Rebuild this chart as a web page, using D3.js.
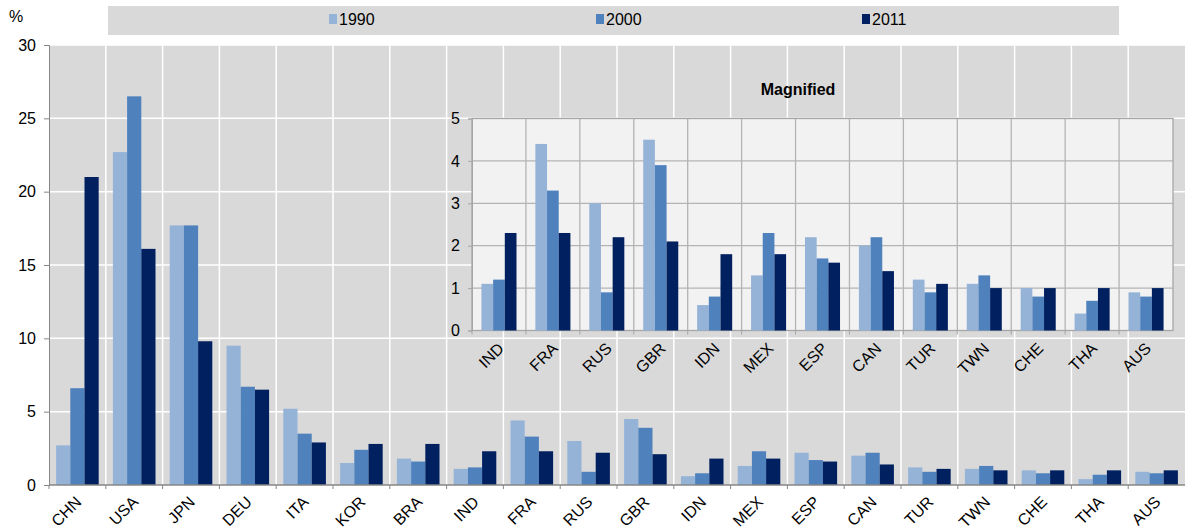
<!DOCTYPE html>
<html>
<head>
<meta charset="utf-8">
<script src="https://cdn.jsdelivr.net/npm/d3@7"></script>
<style>
  body { margin: 0; background: #fff; }
  text { font-family: 'Liberation Sans', Arial, sans-serif; fill: #000; }
</style>
</head>
<body>
<div id="chart"></div>
<script>
const countries = ['CHN', 'USA', 'JPN', 'DEU', 'ITA', 'KOR', 'BRA', 'IND', 'FRA', 'RUS',
  'GBR', 'IDN', 'MEX', 'ESP', 'CAN', 'TUR', 'TWN', 'CHE', 'THA', 'AUS']
const v1990 = [2.7, 22.7, 17.7, 9.5, 5.2, 1.5, 1.8, 1.1, 4.4, 3.0, 4.5, 0.6, 1.3, 2.2, 2.0, 1.2, 1.1, 1.0, 0.4, 0.9]
const v2000 = [6.6, 26.5, 17.7, 6.7, 3.5, 2.4, 1.6, 1.2, 3.3, 0.9, 3.9, 0.8, 2.3, 1.7, 2.2, 0.9, 1.3, 0.8, 0.7, 0.8]
const v2011 = [21.0, 16.1, 9.8, 6.5, 2.9, 2.8, 2.8, 2.3, 2.3, 2.2, 2.1, 1.8, 1.8, 1.6, 1.4, 1.1, 1.0, 1.0, 1.0, 1.0]
const years = ['1990', '2000', '2011']
const colors = ['#95b3d7', '#4f81bd', '#002060']
const mainTicks = [0, 5, 10, 15, 20, 25, 30]
const insetTicks = [0, 1, 2, 3, 4, 5]
const insetCountries = countries.slice(7)

const rows = countries.map((c, i) => ({ country: c, values: [v1990[i], v2000[i], v2011[i]] }))
const insetRows = rows.filter(d => insetCountries.includes(d.country))

const W = 1185
const H = 532

const svg = d3.select('#chart').append('svg').attr('width', W).attr('height', H)

// ---- main chart ----
const m = { left: 49, right: 1185, top: 45, bottom: 485 }

const x = d3.scaleBand().domain(countries).range([m.left, m.right]).paddingInner(0.25).paddingOuter(0.125)
const x1 = d3.scaleBand().domain(years).range([0, x.bandwidth()])
const y = d3.scaleLinear().domain([0, 30]).range([m.bottom, m.top])
const step = x.step()

svg.append('rect')
  .attr('x', m.left).attr('y', m.top)
  .attr('width', m.right - m.left).attr('height', m.bottom - m.top)
  .attr('fill', '#d9d9d9')

// white gridlines
svg.append('g').selectAll('line').data(mainTicks.slice(1)).enter().append('line')
  .attr('x1', m.left).attr('x2', m.right)
  .attr('y1', d => y(d)).attr('y2', d => y(d))
  .attr('stroke', '#fff').attr('stroke-width', 1.5)

svg.append('g').selectAll('line').data(countries.slice(1)).enter().append('line')
  .attr('x1', d => x(d) - step * 0.125).attr('x2', d => x(d) - step * 0.125)
  .attr('y1', m.top).attr('y2', m.bottom)
  .attr('stroke', '#fff').attr('stroke-width', 1.5)

// bars
const groups = svg.append('g').selectAll('g').data(rows).enter().append('g')
  .attr('transform', d => 'translate(' + x(d.country) + ',0)')

groups.selectAll('rect').data(d => d.values.map((v, i) => ({ year: years[i], v: v, i: i }))).enter()
  .append('rect')
  .attr('x', d => x1(d.year))
  .attr('width', x1.bandwidth())
  .attr('y', d => y(d.v))
  .attr('height', d => y(0) - y(d.v))
  .attr('fill', d => colors[d.i])

// y axis
const yAxis = d3.axisLeft(y).tickValues(mainTicks).tickSize(5).tickPadding(8).tickFormat(d3.format('d'))
const gy = svg.append('g').attr('transform', 'translate(' + m.left + ',0)').call(yAxis)
gy.select('.domain').attr('stroke', '#868686')
gy.selectAll('.tick line').attr('stroke', '#868686')
gy.selectAll('text').attr('font-size', '16px').attr('font-family', 'Liberation Sans, Arial, sans-serif')

// x axis
svg.append('line')
  .attr('x1', m.left).attr('x2', m.right).attr('y1', m.bottom).attr('y2', m.bottom)
  .attr('stroke', '#868686').attr('stroke-width', 1.5)
svg.append('g').selectAll('line').data(countries).enter().append('line')
  .attr('x1', d => x(d) - step * 0.125).attr('x2', d => x(d) - step * 0.125)
  .attr('y1', m.bottom).attr('y2', m.bottom + 4)
  .attr('stroke', '#868686')

svg.append('g').selectAll('text').data(countries).enter().append('text')
  .text(d => d)
  .attr('text-anchor', 'end')
  .attr('font-size', '16px')
  .attr('transform', d => 'translate(' + (x(d) + x.bandwidth() / 2 + 5) + ',' + (m.bottom + 18) + ') rotate(-45)')

svg.append('text').text('%').attr('x', 9).attr('y', 22).attr('font-size', '16px')

// legend
svg.append('rect').attr('x', 108).attr('y', 6).attr('width', 1011).attr('height', 29).attr('fill', '#d9d9d9')
const legendX = [329, 596, 862]
const lg = svg.append('g').selectAll('g').data(years).enter().append('g')
  .attr('transform', (d, i) => 'translate(' + legendX[i] + ',14)')
lg.append('rect').attr('width', 8).attr('height', 10).attr('fill', (d, i) => colors[i])
lg.append('text').text(d => d).attr('x', 10).attr('y', 11).attr('font-size', '16px')

// ---- inset ----
const im = { left: 472, right: 1173, top: 118.5, bottom: 330.5 }
const xi = d3.scaleBand().domain(insetCountries).range([im.left, im.right]).paddingInner(0.35).paddingOuter(0.175)
const xi1 = d3.scaleBand().domain(years).range([0, xi.bandwidth()])
const yi = d3.scaleLinear().domain([0, 5]).range([im.bottom, im.top])
const istep = xi.step()

svg.append('rect')
  .attr('x', im.left).attr('y', im.top)
  .attr('width', im.right - im.left).attr('height', im.bottom - im.top)
  .attr('fill', '#f2f2f2')

svg.append('g').selectAll('line').data(insetTicks.slice(1, -1)).enter().append('line')
  .attr('x1', im.left).attr('x2', im.right)
  .attr('y1', d => yi(d)).attr('y2', d => yi(d))
  .attr('stroke', '#b4b4b4').attr('stroke-width', 1.3)

svg.append('g').selectAll('line').data(insetCountries.slice(1)).enter().append('line')
  .attr('x1', d => xi(d) - istep * 0.175).attr('x2', d => xi(d) - istep * 0.175)
  .attr('y1', im.top).attr('y2', im.bottom)
  .attr('stroke', '#b4b4b4').attr('stroke-width', 1.3)

svg.append('rect')
  .attr('x', im.left).attr('y', im.top)
  .attr('width', im.right - im.left).attr('height', im.bottom - im.top)
  .attr('fill', 'none').attr('stroke', '#a6a6a6').attr('stroke-width', 1.3)

const igroups = svg.append('g').selectAll('g').data(insetRows).enter().append('g')
  .attr('transform', d => 'translate(' + xi(d.country) + ',0)')

igroups.selectAll('rect').data(d => d.values.map((v, i) => ({ year: years[i], v: v, i: i }))).enter()
  .append('rect')
  .attr('x', d => xi1(d.year))
  .attr('width', xi1.bandwidth())
  .attr('y', d => yi(d.v))
  .attr('height', d => yi(0) - yi(d.v))
  .attr('fill', d => colors[d.i])

const yiAxis = d3.axisLeft(yi).tickValues(insetTicks).tickSize(4).tickPadding(8).tickFormat(d3.format('d'))
const giy = svg.append('g').attr('transform', 'translate(' + im.left + ',0)').call(yiAxis)
giy.select('.domain').attr('stroke', '#a6a6a6')
giy.selectAll('.tick line').attr('stroke', '#a6a6a6')
giy.selectAll('text').attr('font-size', '16px').attr('font-family', 'Liberation Sans, Arial, sans-serif')

svg.append('g').selectAll('line').data(insetCountries).enter().append('line')
  .attr('x1', d => xi(d) - istep * 0.175).attr('x2', d => xi(d) - istep * 0.175)
  .attr('y1', im.bottom).attr('y2', im.bottom + 4)
  .attr('stroke', '#a6a6a6')

svg.append('g').selectAll('text').data(insetCountries).enter().append('text')
  .text(d => d)
  .attr('text-anchor', 'end')
  .attr('font-size', '16px')
  .attr('transform', d => 'translate(' + (xi(d) + xi.bandwidth() / 2 + 6) + ',' + (im.bottom + 19) + ') rotate(-45)')

svg.append('text').text('Magnified')
  .attr('x', 798).attr('y', 95)
  .attr('text-anchor', 'middle')
  .attr('font-size', '16px').attr('font-weight', 'bold')
</script>
</body>
</html>
